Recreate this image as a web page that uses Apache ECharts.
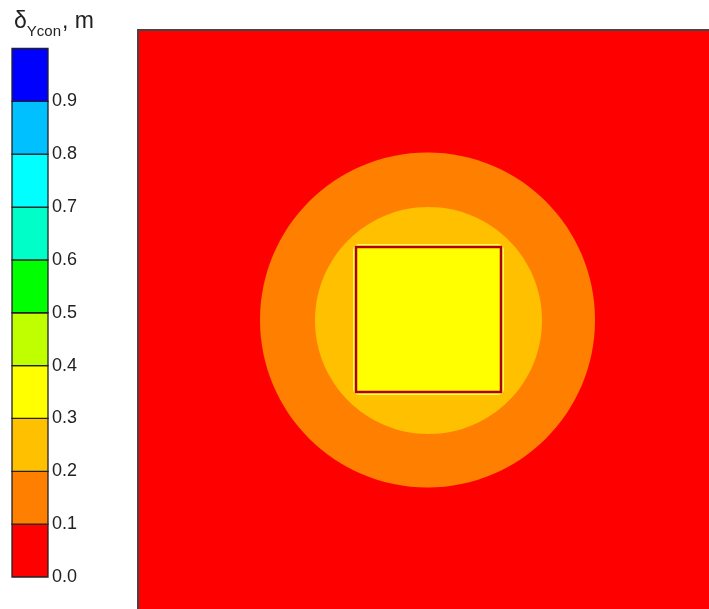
<!DOCTYPE html>
<html>
<head>
<meta charset="utf-8">
<script src="https://cdn.jsdelivr.net/npm/echarts@6/dist/echarts.min.js"></script>
<style>html,body{margin:0;padding:0;background:#fff;}#c{width:709px;height:609px;}</style>
</head>
<body>
<div id="c"></div>
<script>
// Colour scale: band lower bounds and colours
const bandLevels = [0.0, 0.1, 0.2, 0.3, 0.4, 0.5, 0.6, 0.7, 0.8, 0.9];
const bandColors = ['#FF0000', '#FF8000', '#FFC000', '#FFFF00', '#C0FF00', '#00FF00', '#00FFC8', '#00FFFF', '#00C0FF', '#0000FF'];
const tickLabels = ['0.0', '0.1', '0.2', '0.3', '0.4', '0.5', '0.6', '0.7', '0.8', '0.9'];

// Visible domain (m) and zones: value of each zone
const xDomain = [-29, 28.1];
const yDomain = [-28.9, 29];
const backgroundZone = [-29, -29, 29, 29, 0.05];          // x0, y0, x1, y1, value
const circleZones = [[-0.05, 0, 16.75, 0.15], [0.05, -0.05, 11.35, 0.25]]; // cx, cy, r, value
const squareZone = [-7.2, -7.2, 7.3, 7.3, 0.35];          // x0, y0, x1, y1, value

function colorOf(v) {
  let c = bandColors[0];
  for (let i = 0; i < bandLevels.length; i++) if (v >= bandLevels[i]) c = bandColors[i];
  return c;
}

const chart = echarts.init(document.getElementById('c'));
chart.setOption({
  animation: false,
  title: {
    left: 9, top: 2,
    text: '{a|δ}{b|Ycon}{a|, m}',
    textStyle: {
      rich: {
        a: { fontFamily: 'Liberation Sans, Arial', fontSize: 23, fontWeight: 'normal', color: '#222', verticalAlign: 'bottom', lineHeight: 26 },
        b: { fontFamily: 'Liberation Sans, Arial', fontSize: 15, fontWeight: 'normal', color: '#222', verticalAlign: 'bottom', lineHeight: 17, padding: [0, 1, -6, 0] }
      }
    }
  },
  grid: [
    { left: 138, top: 30, width: 571, height: 579, containLabel: false },
    { left: 12, top: 48.5, width: 36, height: 528.5, containLabel: false }
  ],
  xAxis: [
    { gridIndex: 0, type: 'value', min: xDomain[0], max: xDomain[1], show: false },
    { gridIndex: 1, type: 'value', min: 0, max: 1, show: false }
  ],
  yAxis: [
    { gridIndex: 0, type: 'value', min: yDomain[0], max: yDomain[1], show: false },
    {
      gridIndex: 1, type: 'value', min: 0, max: 1, interval: 0.1, position: 'right',
      axisLine: { show: false }, axisTick: { show: false }, splitLine: { show: false },
      axisLabel: {
        margin: 4, color: '#222', fontSize: 18, fontFamily: 'Liberation Sans, Arial',
        padding: [3, 0, 0, 0],
        formatter: function (v) { const i = Math.round(v * 10); return i < tickLabels.length ? tickLabels[i] : ''; }
      }
    }
  ],
  series: [
    {
      type: 'custom', xAxisIndex: 1, yAxisIndex: 1, silent: true,
      data: bandLevels.map((l, i) => [l, i]),
      renderItem: function (params, api) {
        const l = api.value(0);
        const p0 = api.coord([0, l + 0.1]);
        const p1 = api.coord([1, l]);
        return { type: 'rect', shape: { x: p0[0], y: p0[1], width: p1[0] - p0[0], height: p1[1] - p0[1] },
          style: { fill: bandColors[api.value(1)], stroke: '#222', lineWidth: 1.3 } };
      }
    },
    {
      type: 'custom', xAxisIndex: 0, yAxisIndex: 0, clip: false, silent: true,
      data: [backgroundZone],
      renderItem: function (params, api) {
        const p0 = api.coord([api.value(0), api.value(3)]);
        const p1 = api.coord([api.value(2), api.value(1)]);
        return { type: 'rect', shape: { x: p0[0], y: p0[1], width: p1[0] - p0[0], height: p1[1] - p0[1] },
          style: { fill: colorOf(api.value(4)), stroke: '#444', lineWidth: 2 } };
      }
    },
    {
      type: 'custom', xAxisIndex: 0, yAxisIndex: 0, silent: true,
      data: circleZones,
      renderItem: function (params, api) {
        const c = api.coord([api.value(0), api.value(1)]);
        const s = api.size([api.value(2), api.value(2)]);
        return { type: 'ellipse', shape: { cx: c[0], cy: c[1], rx: s[0], ry: s[1] },
          style: { fill: colorOf(api.value(3)) } };
      }
    },
    {
      type: 'custom', xAxisIndex: 0, yAxisIndex: 0, silent: true,
      data: [squareZone],
      renderItem: function (params, api) {
        const p0 = api.coord([api.value(0), api.value(3)]);
        const p1 = api.coord([api.value(2), api.value(1)]);
        const w = p1[0] - p0[0], h = p1[1] - p0[1];
        return { type: 'group', children: [
          { type: 'rect', shape: { x: p0[0] - 3, y: p0[1] - 3, width: w + 6, height: h + 6, r: 6 },
            style: { fill: '#FFFF50' } },
          { type: 'rect', shape: { x: p0[0], y: p0[1], width: w, height: h },
            style: { fill: colorOf(api.value(4)), stroke: '#B00000', lineWidth: 2.5 } }
        ] };
      }
    }
  ]
});
</script>
</body>
</html>
